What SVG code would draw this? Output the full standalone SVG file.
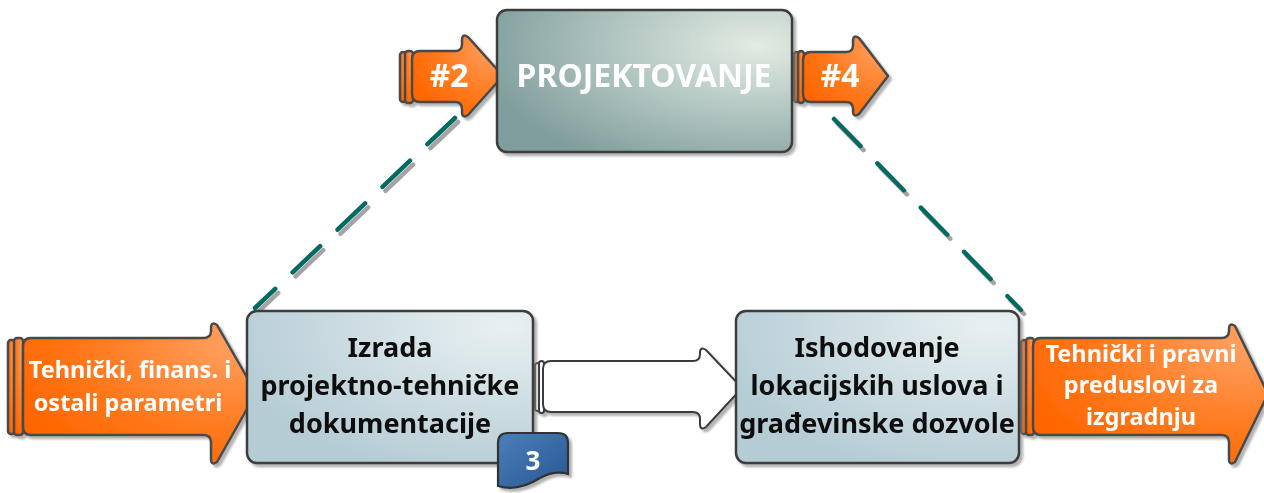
<svg xmlns="http://www.w3.org/2000/svg" width="1264" height="493" viewBox="0 0 1264 493">
  <defs>
    <filter id="sh" x="-10%" y="-10%" width="130%" height="130%">
      <feDropShadow dx="3" dy="3" stdDeviation="1.2" flood-color="#808080" flood-opacity="0.6"/>
    </filter>
    <filter id="lsh" x="-10%" y="-10%" width="130%" height="130%">
      <feDropShadow dx="3" dy="4" stdDeviation="0.4" flood-color="#9a9a9a" flood-opacity="0.9"/>
    </filter>
    <radialGradient id="gTop" cx="0.88" cy="0.25" r="0.95">
      <stop offset="0" stop-color="#e3ebe3"/>
      <stop offset="0.55" stop-color="#adc2be"/>
      <stop offset="1" stop-color="#809e9d"/>
    </radialGradient>
    <radialGradient id="gBox" cx="0.9" cy="0.1" r="1">
      <stop offset="0" stop-color="#e8f0f2"/>
      <stop offset="1" stop-color="#b5ccd4"/>
    </radialGradient>
    <radialGradient id="gOr" cx="0.9" cy="0.15" r="1">
      <stop offset="0" stop-color="#ffa060"/>
      <stop offset="0.6" stop-color="#ff7a1e"/>
      <stop offset="1" stop-color="#ff6600"/>
    </radialGradient>
    <linearGradient id="gBlue" x1="0" y1="0" x2="1" y2="1">
      <stop offset="0" stop-color="#4a7fbc"/>
      <stop offset="1" stop-color="#2a5791"/>
    </linearGradient>
  </defs>
  <style>
    .ol { stroke: #4a4a4a; stroke-width: 2.5; stroke-linejoin: round; }
    .or { fill: url(#gOr); }
    .box { fill: url(#gBox); stroke: #3d3d3d; stroke-width: 2.5; }
    .dash { fill: none; stroke: #006b63; stroke-width: 4.5; stroke-linecap: round; stroke-dasharray: 38 24; }
    .wt { font-family: "Noto Sans", "Open Sans", sans-serif; font-weight: bold; fill: #ffffff; text-anchor: middle; }
    .ot { font-size: 23.5px; }
    .bt { font-family: "Noto Sans", "Open Sans", sans-serif; font-weight: bold; fill: #111111; text-anchor: middle; font-size: 27px; }
  </style>

  <g id="connectors">
    <g filter="url(#lsh)">
      <line class="dash" x1="455" y1="118" x2="255" y2="308"/>
      <line class="dash" x1="834" y1="119" x2="1021" y2="310"/>
    </g>
    <g id="flow-arrow" filter="url(#sh)">
      <rect x="535" y="363" width="5" height="48" rx="2.5" fill="#ffffff" stroke="#3a3a3a" stroke-width="2"/>
      <rect x="539" y="361" width="5" height="52" rx="2.5" fill="#ffffff" stroke="#3a3a3a" stroke-width="2"/>
      <path d="M 551 361 H 693 Q 700 361 700 354 V 353 Q 700 346 706 350 L 742 388 L 706 427 Q 700 431 700 424 V 419 Q 700 412 693 412 H 551 Q 543 412 543 404 V 369 Q 543 361 551 361 Z" fill="#ffffff" stroke="#3a3a3a" stroke-width="2"/>
    </g>
  </g>

  <g id="in-arrow" filter="url(#sh)">
    <rect class="or ol" x="8" y="340" width="7" height="94" rx="3"/>
    <rect class="or ol" x="14" y="338" width="9" height="97" rx="3"/>
    <path class="or ol" d="M 31 338 H 203 Q 211 338 211 331 V 328 Q 211 321 217 325 L 256 393 L 217 462 Q 211 466 211 459 V 442 Q 211 435 203 435 H 31 Q 23 435 23 427 V 346 Q 23 338 31 338 Z"/>
    <text class="wt ot" x="130" y="378">Tehnički, finans. i</text>
    <text class="wt ot" x="128" y="411">ostali parametri</text>
  </g>

  <g id="out-arrow" filter="url(#sh)">
    <rect class="or ol" x="1021" y="340" width="6" height="94" rx="3"/>
    <rect class="or ol" x="1026" y="338" width="8" height="97" rx="3"/>
    <path class="or ol" d="M 1041 338 H 1221 Q 1229 338 1229 331 V 329 Q 1229 322 1235 326 L 1268 394 L 1235 462 Q 1229 466 1229 459 V 442 Q 1229 435 1221 435 H 1041 Q 1033 435 1033 427 V 346 Q 1033 338 1041 338 Z"/>
    <text class="wt ot" x="1141" y="362">Tehnički i pravni</text>
    <text class="wt ot" x="1141" y="393">preduslovi za</text>
    <text class="wt ot" x="1141" y="425">izgradnju</text>
  </g>

  <g id="arrow-2" filter="url(#sh)">
    <rect class="or ol" x="400" y="52" width="6" height="50" rx="3"/>
    <rect class="or ol" x="405" y="51" width="8" height="52" rx="3"/>
    <path class="or ol" d="M 420 51 H 455 Q 462 51 462 44 V 40 Q 462 33 468 37 L 503 76 L 468 115 Q 462 119 462 112 V 109 Q 462 102 455 102 H 420 Q 412 102 412 94 V 59 Q 412 51 420 51 Z"/>
    <text class="wt" font-size="32" x="449" y="87">#2</text>
  </g>

  <g id="arrow-4" filter="url(#sh)">
    <rect class="or ol" x="794" y="52" width="5" height="50" rx="2.5"/>
    <rect class="or ol" x="798" y="51" width="6" height="52" rx="3"/>
    <path class="or ol" d="M 811 52 H 846 Q 853 52 853 45 V 41 Q 853 34 859 38 L 888 76 L 859 114 Q 853 118 853 111 V 109 Q 853 102 846 102 H 811 Q 803 102 803 94 V 60 Q 803 52 811 52 Z"/>
    <text class="wt" font-size="32" x="840" y="87">#4</text>
  </g>

  <g id="projektovanje" filter="url(#sh)">
    <rect x="497" y="10" width="295" height="142" rx="10" fill="url(#gTop)" stroke="#3d3d3d" stroke-width="2.5"/>
    <text class="wt" font-size="32" x="644" y="87">PROJEKTOVANJE</text>
  </g>

  <g id="izrada" filter="url(#sh)">
    <rect class="box" x="247" y="311" width="286" height="152" rx="10"/>
    <text class="bt" x="390" y="357">Izrada</text>
    <text class="bt" x="390" y="395">projektno-tehničke</text>
    <text class="bt" x="390" y="433">dokumentacije</text>
  </g>

  <g id="ishodovanje" filter="url(#sh)">
    <rect class="box" x="736" y="311" width="283" height="152" rx="10"/>
    <text class="bt" x="877" y="357">Ishodovanje</text>
    <text class="bt" x="877" y="395">lokacijskih uslova i</text>
    <text class="bt" x="877" y="433">građevinske dozvole</text>
  </g>

  <g id="badge-3" filter="url(#sh)">
    <path d="M 508 433 H 558 Q 568 433 568 443 V 474 Q 555 470 540 478 Q 518 492 498 486 V 443 Q 498 433 508 433 Z" fill="url(#gBlue)" stroke="#333333" stroke-width="2.2"/>
    <text class="wt" font-size="26" x="533" y="470">3</text>
  </g>
</svg>
